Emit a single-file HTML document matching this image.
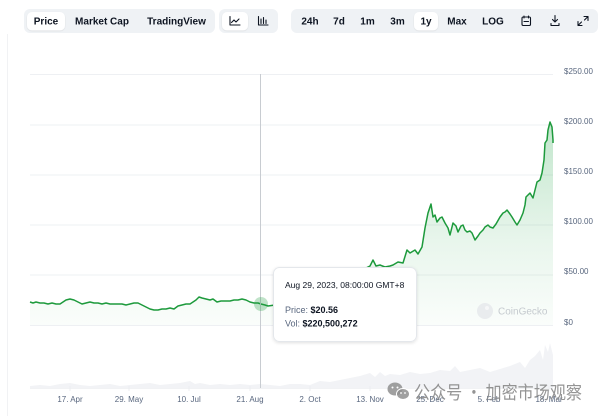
<!DOCTYPE html>
<html><head><meta charset="utf-8"><style>
html,body{margin:0;padding:0;background:#fff;}
body{width:600px;height:416px;overflow:hidden;font-family:"Liberation Sans","Noto Sans CJK SC",sans-serif;}
svg{display:block;}
</style></head><body>
<svg width="600" height="416" viewBox="0 0 600 416" xmlns="http://www.w3.org/2000/svg" font-family="Liberation Sans, Noto Sans CJK SC, sans-serif">
<defs>
<linearGradient id="g" x1="0" y1="120" x2="0" y2="326" gradientUnits="userSpaceOnUse">
<stop offset="0" stop-color="#22a447" stop-opacity="0.28"/>
<stop offset="0.6" stop-color="#22a447" stop-opacity="0.10"/>
<stop offset="1" stop-color="#22a447" stop-opacity="0.02"/>
</linearGradient>
<filter id="sh" x="-10%" y="-10%" width="130%" height="140%"><feDropShadow dx="0" dy="1" stdDeviation="1.5" flood-color="#000" flood-opacity="0.12"/></filter>
<filter id="bs" x="-10%" y="-10%" width="120%" height="130%"><feDropShadow dx="0" dy="0.5" stdDeviation="0.6" flood-color="#000" flood-opacity="0.12"/></filter>
</defs>

<line x1="7.5" y1="34" x2="7.5" y2="416" stroke="#f1f2f4" stroke-width="1"/>

<rect x="24" y="9" width="191" height="24" rx="6" fill="#eff2f5"/>
<rect x="27" y="12" width="38" height="18.5" rx="5" fill="#fff" filter="url(#bs)"/>
<g font-size="10" font-weight="bold" fill="#0d1421" text-anchor="middle">
<text x="46" y="24.5">Price</text>
<text x="102" y="24.5">Market Cap</text>
<text x="176.5" y="24.5">TradingView</text>
</g>
<rect x="219" y="9" width="59" height="24" rx="6" fill="#eff2f5"/>
<rect x="222" y="12" width="26" height="18.5" rx="5" fill="#fff" filter="url(#bs)"/>
<g stroke="#0d1421" stroke-width="1.1" fill="none" stroke-linecap="round" stroke-linejoin="round">
<path d="M230 16.5 V25 H240"/>
<path d="M231.5 22.5 L234 20 L236 22 L239 19"/>
<path d="M258.5 16.5 V25 H268"/>
<path d="M261 23.5 V19 M263.5 23.5 V17.5 M266 23.5 V20"/>
</g>
<rect x="291" y="9" width="307" height="24" rx="6" fill="#eff2f5"/>
<rect x="414" y="12" width="24" height="18.5" rx="5" fill="#fff" filter="url(#bs)"/>
<g font-size="10" font-weight="bold" fill="#0d1421" text-anchor="middle">
<text x="310" y="24.5">24h</text>
<text x="339" y="24.5">7d</text>
<text x="367.5" y="24.5">1m</text>
<text x="397.5" y="24.5">3m</text>
<text x="426" y="24.5">1y</text>
<text x="457" y="24.5">Max</text>
<text x="493" y="24.5">LOG</text>
</g>
<g stroke="#0d1421" stroke-width="1.1" fill="none" stroke-linecap="round" stroke-linejoin="round">
<rect x="522" y="17" width="8.5" height="8.5" rx="1.2"/>
<path d="M524 16 V18 M528.5 16 V18 M524 21.5 H528.5"/>
<path d="M555 15.5 V22 M552.5 19.5 L555 22 L557.5 19.5 M551 23.5 V25.5 H559 V23.5"/>
<path d="M584 16.5 H588 V20.5 M588 16.5 L584.5 20 M582 25.5 H578 V21.5 M578 25.5 L581.5 22"/>
</g>

<g stroke="#eef0f3" stroke-width="1">
<line x1="30" y1="74.5" x2="553" y2="74.5"/>
<line x1="30" y1="125" x2="553" y2="125"/>
<line x1="30" y1="175" x2="553" y2="175"/>
<line x1="30" y1="225" x2="553" y2="225"/>
<line x1="30" y1="275" x2="553" y2="275"/>
<line x1="30" y1="325.5" x2="553" y2="325.5"/>
</g>

<g font-size="8" fill="#58667e">
<text x="564" y="74">$250.00</text>
<text x="564" y="124">$200.00</text>
<text x="564" y="174">$150.00</text>
<text x="564" y="224">$100.00</text>
<text x="564" y="274">$50.00</text>
<text x="564" y="325">$0</text>
</g>

<path fill="#f2f3f6" d="M30 388 L30 386 L40 385 L50 386 L60 384 L70 383 L80 385 L90 386 L100 385 L110 384 L120 386 L130 385 L140 384 L150 383 L160 385 L170 384 L180 383 L190 381 L195 384 L200 383 L210 385 L220 384 L230 385 L240 384 L250 385 L260 384 L270 385 L280 386 L290 384 L300 384 L310 385 L320 381 L330 382 L340 380 L350 378 L360 376 L370 373 L375 377 L380 372 L385 376 L390 374 L400 375 L410 372 L420 374 L430 373 L440 370 L450 371 L455 366 L460 372 L470 370 L480 368 L490 372 L500 369 L510 366 L520 362 L525 368 L530 360 L535 356 L540 350 L543 360 L545 345 L548 352 L550 343 L553 355 L553 388 Z"/>
<line x1="30" y1="388.5" x2="553" y2="388.5" stroke="#f1f2f4"/>
<g stroke="#eceef1"><line x1="70" y1="386" x2="70" y2="391"/><line x1="129" y1="386" x2="129" y2="391"/><line x1="189" y1="386" x2="189" y2="391"/><line x1="250" y1="386" x2="250" y2="391"/><line x1="310" y1="386" x2="310" y2="391"/><line x1="370" y1="386" x2="370" y2="391"/><line x1="430" y1="386" x2="430" y2="391"/><line x1="489" y1="386" x2="489" y2="391"/><line x1="549" y1="386" x2="549" y2="391"/></g>

<path fill="url(#g)" d="M30 325 L30 302 L33 303 L36 302 L40 303 L44 303 L48 304 L52 303 L56 304 L60 304 L63 302 L66 300 L70 299 L74 300 L78 302 L82 304 L86 303 L90 302 L94 303 L98 303 L102 304 L106 303 L110 304 L114 304 L118 304 L122 304 L126 305 L130 304 L134 303 L138 303 L142 305 L146 307 L150 309 L154 310 L158 310 L162 309 L166 309 L170 308 L174 309 L178 306 L182 305 L186 304 L190 304 L193 302 L196 300 L199 297 L202 298 L206 299 L210 300 L213 299 L217 302 L221 301 L225 301 L230 301 L234 300 L238 300 L242 299 L246 300 L250 302 L254 303 L258 303 L261 304 L265 305 L268 306 L275 305 L285 304 L295 302 L305 300 L315 298 L325 295 L335 290 L345 283 L355 277 L362 270 L366 268 L370 266 L373 260 L376 266 L380 265 L385 267 L390 266 L393 265 L398 262 L403 263 L407 250 L410 253 L415 250 L418 254 L422 247 L425 228 L428 213 L431 204 L433 217 L435 215 L437 222 L440 218 L442 217 L445 223 L448 228 L450 235 L453 223 L456 226 L458 232 L461 226 L463 225 L465 230 L467 232 L470 231 L472 233 L475 240 L478 236 L480 233 L483 230 L485 227 L488 225 L490 227 L493 228 L496 224 L500 217 L503 213 L505 212 L507 210 L510 214 L512 217 L515 222 L517 225 L520 220 L523 213 L525 205 L526 197 L528 195 L530 193 L533 198 L535 190 L537 182 L540 180 L542 173 L544 160 L545 143 L547 140 L548 130 L550 122 L552 127 L553 140 L553 143 L553 325 Z"/>
<polyline fill="none" stroke="#1d9a3c" stroke-width="1.5" stroke-linejoin="round" points="30,302 33,303 36,302 40,303 44,303 48,304 52,303 56,304 60,304 63,302 66,300 70,299 74,300 78,302 82,304 86,303 90,302 94,303 98,303 102,304 106,303 110,304 114,304 118,304 122,304 126,305 130,304 134,303 138,303 142,305 146,307 150,309 154,310 158,310 162,309 166,309 170,308 174,309 178,306 182,305 186,304 190,304 193,302 196,300 199,297 202,298 206,299 210,300 213,299 217,302 221,301 225,301 230,301 234,300 238,300 242,299 246,300 250,302 254,303 258,303 261,304 265,305 268,306 275,305 285,304 295,302 305,300 315,298 325,295 335,290 345,283 355,277 362,270 366,268 370,266 373,260 376,266 380,265 385,267 390,266 393,265 398,262 403,263 407,250 410,253 415,250 418,254 422,247 425,228 428,213 431,204 433,217 435,215 437,222 440,218 442,217 445,223 448,228 450,235 453,223 456,226 458,232 461,226 463,225 465,230 467,232 470,231 472,233 475,240 478,236 480,233 483,230 485,227 488,225 490,227 493,228 496,224 500,217 503,213 505,212 507,210 510,214 512,217 515,222 517,225 520,220 523,213 525,205 526,197 528,195 530,193 533,198 535,190 537,182 540,180 542,173 544,160 545,143 547,140 548,130 550,122 552,127 553,140 553,143"/>

<circle cx="485" cy="311" r="8" fill="#e9ecee"/>
<circle cx="487" cy="308" r="2" fill="#f6f7f8"/>
<text x="498" y="314.5" font-size="10" fill="#c5cacf">CoinGecko</text>

<line x1="260.5" y1="74" x2="260.5" y2="388" stroke="#c8ccd1" stroke-width="1"/>
<circle cx="261" cy="304" r="7" fill="#1d9a3c" fill-opacity="0.28"/>

<rect x="273.5" y="267.5" width="143" height="74" rx="6" fill="#fff" stroke="#e4e7eb" filter="url(#sh)"/>
<text x="285" y="288" font-size="8.5" fill="#0d1421">Aug 29, 2023, 08:00:00 GMT+8</text>
<text x="285" y="313" font-size="9" fill="#58667e">Price: <tspan font-weight="bold" fill="#0d1421">$20.56</tspan></text>
<text x="285" y="326.5" font-size="9" fill="#58667e">Vol: <tspan font-weight="bold" fill="#0d1421">$220,500,272</tspan></text>

<g font-size="8" fill="#58667e" text-anchor="middle">
<text x="70" y="402">17. Apr</text>
<text x="129" y="402">29. May</text>
<text x="189" y="402">10. Jul</text>
<text x="250" y="402">21. Aug</text>
<text x="310" y="402">2. Oct</text>
<text x="370" y="402">13. Nov</text>
<text x="430" y="402">25. Dec</text>
<text x="489" y="402">5. Feb</text>
<text x="549" y="402">18. Mar</text>
</g>

<g fill="#8f8f8f" fill-opacity="0.85">
<ellipse cx="395" cy="389" rx="7.5" ry="6.5"/>
<ellipse cx="403" cy="394" rx="6.5" ry="5.5" stroke="#fff" stroke-width="1"/>
</g>
<g fill="#fff"><circle cx="392.5" cy="387.5" r="1"/><circle cx="397.5" cy="387.5" r="1"/><circle cx="401" cy="393" r="0.9"/><circle cx="405" cy="393" r="0.9"/></g>
<text x="414" y="399" font-size="18" fill="#888" fill-opacity="0.9" textLength="168" lengthAdjust="spacingAndGlyphs" font-family="Noto Sans CJK SC, sans-serif">公众号 · 加密市场观察</text>
</svg>
</body></html>
